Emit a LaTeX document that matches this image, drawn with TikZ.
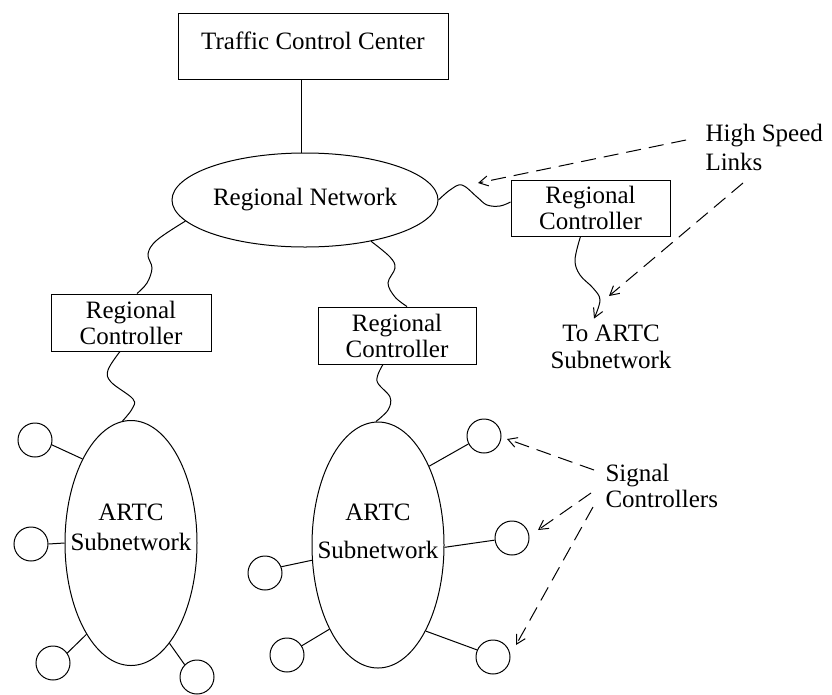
\documentclass[tikz,border=0pt]{standalone}
\usepackage{fontspec}
\setmainfont{Liberation Serif}
\usetikzlibrary{shapes.geometric,arrows.meta,calc}
\begin{document}
\begin{tikzpicture}[x=1pt,y=-1pt,line width=1pt,
  font=\fontsize{25}{26}\selectfont,
  box/.style={draw,rectangle,inner sep=0pt,align=center},
  oval/.style={draw,ellipse,inner sep=0pt},
  sig/.style={draw,circle,minimum size=34pt,inner sep=0pt},
  lbl/.style={inner sep=0pt,align=center},
  wave/.style={line width=1pt},
  hs/.style={dash pattern=on 15pt off 8pt,-{Straight Barb[length=9pt,width=10pt]}},
  spoke/.style={line width=1pt}]
\useasboundingbox (0,0) rectangle (832,694);

% main nodes
\node[box,minimum width=270pt,minimum height=66pt,text depth=10pt] (tcc) at (313,46) {Traffic Control Center};
\node[oval,minimum width=266pt,minimum height=94pt] (rn) at (305,200) {Regional Network};
\node[box,minimum width=160pt,minimum height=57pt] (rc1) at (131,322.5) {Regional\\Controller};
\node[box,minimum width=158pt,minimum height=57pt] (rc2) at (397,335.5) {Regional\\Controller};
\node[box,minimum width=159pt,minimum height=56pt] (rc3) at (590.5,208) {Regional\\Controller};

% ARTC subnetworks
\node[oval,minimum width=132pt,minimum height=245pt] (a1) at (131,543) {};
\node[oval,minimum width=132pt,minimum height=246pt] (a2) at (378,545) {};
\node[lbl] (a1t) at (131,527) {ARTC\\[4pt]Subnetwork};
\node[lbl] (a2t) at (378,531) {ARTC\\[12pt]Subnetwork};

% labels
\node[lbl] (tas) at (611,347) {To ARTC\\[1pt]Subnetwork};
\node[lbl,align=left,anchor=north west] (hsl) at (705,124) {High Speed\\[3pt]Links};
\node[lbl,align=left,anchor=north west] (sc) at (605,464) {Signal\\Controllers};

% signal controllers
\node[sig] (c1) at (35,440) {};
\node[sig] (c2) at (31,544) {};
\node[sig] (c3) at (53,663) {};
\node[sig] (c4) at (197,677) {};
\node[sig] (c5) at (265,573) {};
\node[sig] (c6) at (287,655) {};
\node[sig] (c7) at (484,436) {};
\node[sig] (c8) at (512,538) {};
\node[sig] (c9) at (493,657) {};

% straight link
\draw ([shift={(-4,0)}]rn.north) -- ([shift={(-4,0)}]rn.north |- tcc.south);

% wavy links
\draw[wave] plot[smooth,tension=0.6] coordinates {(rn.190.6) (157,240) (148,254) (152,268) (147,283) ([shift={(6,0)}]rc1.north)};
\draw[wave] plot[smooth,tension=0.6] coordinates {(rn.-32.7) (390,257) (395,268) (388,283) (395,297) ([shift={(10,0)}]rc2.north)};
\draw[wave] plot[smooth,tension=0.6] coordinates {(rn.east) (450,190) (462,185) (477,197) (487,205) (500,206) ([shift={(0,-6)}]rc3.west)};
\draw[wave,-{Straight Barb[length=9pt,width=10pt]}] plot[smooth,tension=0.6] coordinates {([shift={(-10,0)}]rc3.south) (575,260) (580,275) (593,288) (600,300) ([shift={(-17,-6)}]tas.north)};
\draw[wave] plot[smooth,tension=0.6] coordinates {([shift={(-11,0)}]rc1.south) (108,370) (111,382) (133,399) (132,409) (a1.94)};
\draw[wave] plot[smooth,tension=0.6] coordinates {([shift={(-14,0)}]rc2.south) (377,381) (390,397) (388,410) (a2.91)};

% spokes
\draw[spoke] (c1.-16) -- (a1.120);
\draw[spoke] (c2.0) -- (a1.180);
\draw[spoke] (c3.35) -- (a1.244);
\draw[spoke] (c4.135) -- (a1.-69);
\draw[spoke] (c5.21) -- (a2.193);
\draw[spoke] (c6.32) -- (a2.240);
\draw[spoke] (c7.207) -- (a2.57);
\draw[spoke] (c8.187) -- (a2.-2);
\draw[spoke] (c9.156) -- (a2.-61);

% annotation arrows
\coordinate (hsend1) at (478,183);
\coordinate (hsend2) at (609,296);
\coordinate (scend1) at (507,439);
\coordinate (scend2) at (538,530);
\coordinate (scend3) at (516,645);
\draw[hs] ([shift={(-19,16)}]hsl.north west) -- (hsend1);
\draw[hs] ([shift={(38,59)}]hsl.north west) -- (hsend2);
\draw[hs] ([shift={(-11,6)}]sc.north west) -- (scend1);
\draw[hs] ([shift={(-14,29)}]sc.north west) -- (scend2);
\draw[hs] ([shift={(-12,43)}]sc.north west) -- (scend3);
\end{tikzpicture}
\end{document}
